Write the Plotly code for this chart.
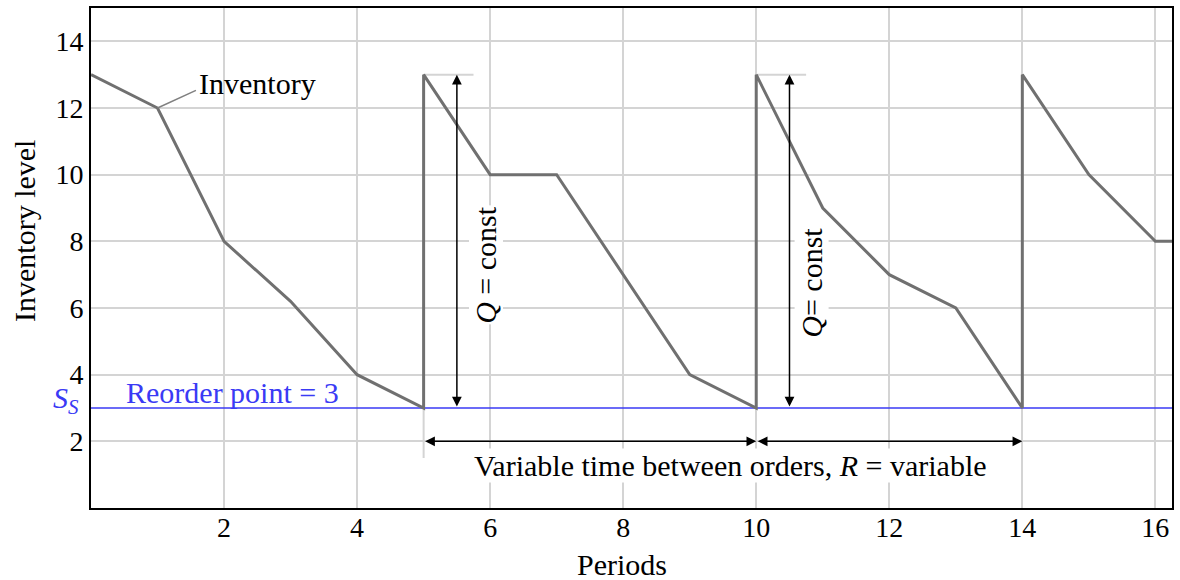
import plotly.graph_objects as go

periods = [0, 1, 2, 3, 4, 5, 5, 6, 7, 8, 9, 10, 10, 11, 12, 13, 14, 14, 15, 16, 16.25]
inventory = [13, 12, 8, 6.2, 4, 3, 13, 10, 10, 7, 4, 3, 13, 9, 7, 6, 3, 13, 10, 8, 8]
reorder_point = 3
order_qty_top = 13
order_times = [5, 10, 14]
x_ticks = [2, 4, 6, 8, 10, 12, 14, 16]
y_ticks = [2, 4, 6, 8, 10, 12, 14]

FONT = "Liberation Serif, Times New Roman, serif"
GRID = "#d4d4d4"
BLUE = "#3a3af5"
W, H = 1180, 580
ML, MR, MT, MB = 91, 8, 8, 72
FS = 30

fig = go.Figure()

# helper light-gray extension lines
fig.add_trace(go.Scatter(x=[5, 5], y=[1.5, 3], mode="lines",
                         line=dict(color=GRID, width=2), hoverinfo="skip", showlegend=False))
for t in order_times[:2]:
    fig.add_trace(go.Scatter(x=[t, t + 0.75], y=[order_qty_top, order_qty_top], mode="lines",
                             line=dict(color=GRID, width=2), hoverinfo="skip", showlegend=False))

# reorder line
fig.add_trace(go.Scatter(x=[0, 16.25], y=[reorder_point, reorder_point], mode="lines",
                         line=dict(color=BLUE, width=1.5), hoverinfo="skip", showlegend=False))

# inventory
fig.add_trace(go.Scatter(x=periods, y=inventory, mode="lines",
                         line=dict(color="#707070", width=3), showlegend=False))

ann = []
# Inventory label with leader line
ann.append(dict(x=1.6, y=12.74, xref="x", yref="y", text="Inventory", showarrow=False,
                xanchor="left", yanchor="middle", font=dict(family=FONT, size=FS, color="black")))
ann.append(dict(x=1.0, y=12.0, ax=1.6, ay=12.55, xref="x", yref="y", axref="x", ayref="y",
                text="", showarrow=True, arrowhead=0, arrowwidth=1.5, arrowcolor="#808080"))

# vertical double arrows Q
for xq, txt, xt, yt in [(5.5, "<i>Q</i> = const", 5.94, 7.3), (10.5, "<i>Q</i>= const", 10.83, 6.77)]:
    ann.append(dict(x=xq, y=order_qty_top, ax=xq, ay=reorder_point, xref="x", yref="y",
                    axref="x", ayref="y", text="", showarrow=True, arrowhead=2, arrowsize=1.3,
                    arrowside="end+start", arrowwidth=1.5, arrowcolor="black"))
    ann.append(dict(x=xt, y=yt, xref="x", yref="y", text=txt, showarrow=False,
                    textangle=-90, bgcolor="white", borderpad=0,
                    xanchor="center", yanchor="middle",
                    font=dict(family=FONT, size=FS, color="black")))

# horizontal double arrows R
for a, b in [(order_times[0], order_times[1]), (order_times[1], order_times[2])]:
    ann.append(dict(x=b, y=2, ax=a, ay=2, xref="x", yref="y", axref="x", ayref="y",
                    text="", showarrow=True, arrowhead=2, arrowsize=1.3,
                    arrowside="end+start", arrowwidth=1.5, arrowcolor="black"))
ann.append(dict(x=9.61, y=1.28, xref="x", yref="y",
                text="Variable time between orders, <i>R</i> = variable", showarrow=False,
                xanchor="center", yanchor="middle",
                bgcolor="white", borderpad=0, font=dict(family=FONT, size=FS, color="black")))

# reorder text
ann.append(dict(x=0.5, y=3.0, xref="x", yref="y", text="Reorder point = 3", showarrow=False,
                xanchor="left", yanchor="bottom", yshift=-3,
                font=dict(family=FONT, size=FS, color=BLUE)))
ann.append(dict(x=0, y=3.25, xref="paper", yref="y", text="<i>S<sub>S</sub></i>", showarrow=False,
                xanchor="right", yanchor="middle", xshift=-10,
                font=dict(family=FONT, size=FS, color=BLUE)))

# axis titles (pixel positions converted to paper coords)
pw, ph = W - ML - MR, H - MT - MB
ann.append(dict(x=(25 - ML) / pw, y=(H - MB - 231) / ph, xref="paper", yref="paper",
                text="Inventory level", showarrow=False, textangle=-90,
                xanchor="center", yanchor="middle",
                font=dict(family=FONT, size=FS, color="black")))
ann.append(dict(x=(622 - ML) / pw, y=(H - MB - 564) / ph, xref="paper", yref="paper",
                text="Periods", showarrow=False, xanchor="center", yanchor="middle",
                font=dict(family=FONT, size=FS, color="black")))

fig.update_layout(
    width=W, height=H,
    margin=dict(l=ML, r=MR, t=MT, b=MB, autoexpand=False),
    paper_bgcolor="white", plot_bgcolor="white",
    font=dict(family=FONT, size=28, color="black"),
    annotations=ann,
    xaxis=dict(range=[0, 16.25], tickvals=x_ticks, showgrid=True, gridcolor=GRID, gridwidth=2,
               showline=True, linecolor="black", linewidth=2, mirror=True, zeroline=False,
               ticks="", automargin=False, ticklabelstandoff=-7,
               tickfont=dict(family=FONT, size=28)),
    yaxis=dict(range=[0, 15], tickvals=y_ticks, showgrid=True, gridcolor=GRID, gridwidth=2,
               showline=True, linecolor="black", linewidth=2, mirror=True, zeroline=False,
               ticks="", automargin=False, tickfont=dict(family=FONT, size=28)),
)

fig.write_html("out.html", config={"displayModeBar": False},
               post_script="document.body.style.margin='0px';")
